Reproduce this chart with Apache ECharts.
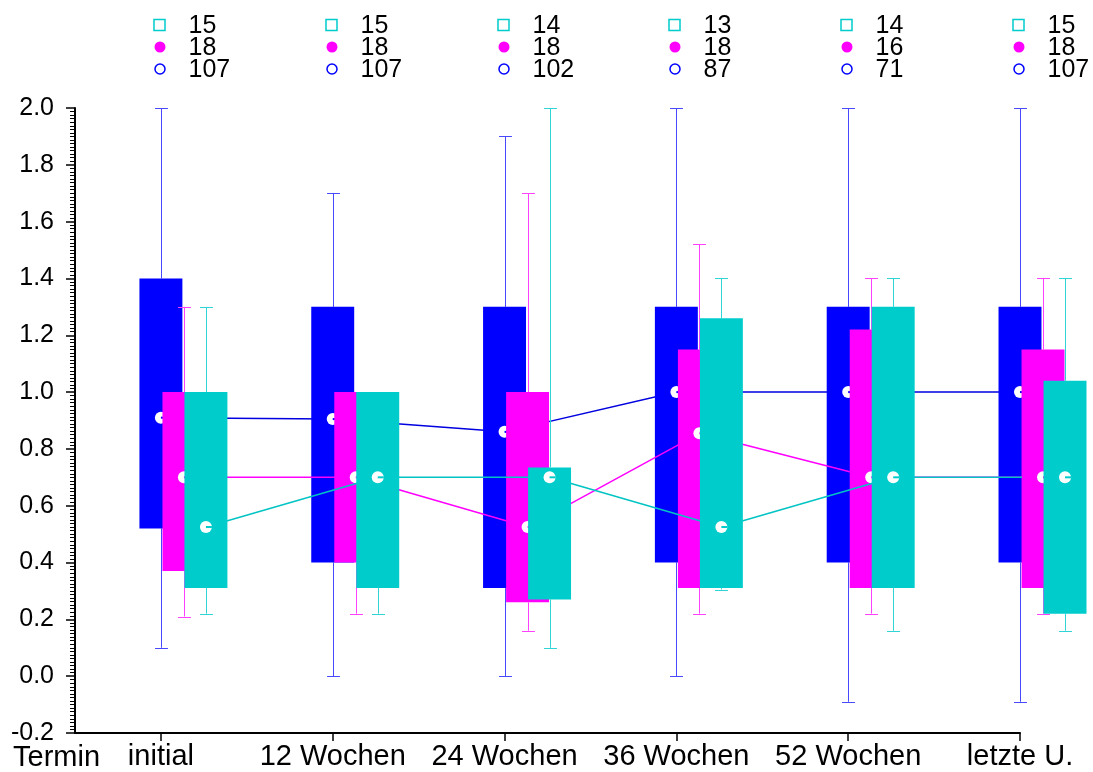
<!DOCTYPE html>
<html>
<head>
<meta charset="utf-8">
<script src="https://cdn.jsdelivr.net/npm/echarts@6/dist/echarts.min.js"></script>
<style>
html,body{margin:0;padding:0;background:#fff;}
#c{width:1093px;height:772px;}
</style>
</head>
<body>
<div id="c"></div>
<script>
// ---- data ----
const categories = ['initial', '12 Wochen', '24 Wochen', '36 Wochen', '52 Wochen', 'letzte U.'];
const axisTitle = 'Termin';
const yTicks = [-0.2, 0.0, 0.2, 0.4, 0.6, 0.8, 1.0, 1.2, 1.4, 1.6, 1.8, 2.0];
// N per group (legend numbers)
const nCyan = [15, 15, 14, 13, 14, 15];
const nMagenta = [18, 18, 18, 18, 16, 18];
const nBlue = [107, 107, 102, 87, 71, 107];
// [whisker low, Q1, median, Q3, whisker high]
const blueBox = [
  [0.10, 0.52, 0.91, 1.40, 2.00],
  [0.00, 0.40, 0.905, 1.30, 1.70],
  [0.00, 0.31, 0.86, 1.30, 1.90],
  [0.00, 0.40, 1.00, 1.30, 2.00],
  [-0.09, 0.40, 1.00, 1.30, 2.00],
  [-0.09, 0.40, 1.00, 1.30, 2.00]
];
const magentaBox = [
  [0.21, 0.37, 0.70, 1.00, 1.30],
  [0.22, 0.40, 0.70, 1.00, 1.00],
  [0.16, 0.26, 0.525, 1.00, 1.70],
  [0.22, 0.31, 0.855, 1.15, 1.52],
  [0.22, 0.31, 0.70, 1.22, 1.40],
  [0.22, 0.31, 0.70, 1.15, 1.40]
];
const cyanBox = [
  [0.22, 0.31, 0.525, 1.00, 1.30],
  [0.22, 0.31, 0.70, 1.00, 1.00],
  [0.10, 0.27, 0.70, 0.735, 2.00],
  [0.305, 0.31, 0.525, 1.26, 1.40],
  [0.16, 0.31, 0.70, 1.30, 1.40],
  [0.16, 0.22, 0.70, 1.04, 1.40]
];

// ---- style / layout ----
const FONT = 'Liberation Sans, Arial, sans-serif';
const BLUE = '#0000ff', MAGENTA = '#ff00ff', CYAN = '#00cccc';
const BOX_W = 0.25, CAP_W = 0.075;
const OFFS = [0, 0.134, 0.262];

function boxRender(color, whiskerColor) {
  return function (params, api) {
    const x = api.value(0);
    const pLo = api.coord([x, api.value(1)]);
    const pQ1 = api.coord([x, api.value(2)]);
    const pMed = api.coord([x, api.value(3)]);
    const pQ3 = api.coord([x, api.value(4)]);
    const pHi = api.coord([x, api.value(5)]);
    const hw = api.size([BOX_W, 0])[0] / 2;
    const cw = api.size([CAP_W, 0])[0] / 2;
    const cx = Math.round(pMed[0]) + 0.5;
    const ln = (x1, y1, x2, y2, w, c) => ({type: 'line', shape: {x1, y1, x2, y2}, style: {stroke: c || whiskerColor, lineWidth: w || 1}});
    return {
      type: 'group',
      children: [
        ln(cx, pQ1[1], cx, pLo[1]),
        ln(cx - cw, Math.round(pLo[1]) + 0.5, cx + cw, Math.round(pLo[1]) + 0.5),
        ln(cx, pQ3[1], cx, pHi[1]),
        ln(cx - cw, Math.round(pHi[1]) + 0.5, cx + cw, Math.round(pHi[1]) + 0.5),
        {type: 'rect', shape: {x: pMed[0] - hw, y: pQ3[1], width: 2 * hw, height: pQ1[1] - pQ3[1]}, style: {fill: color}},
        {type: 'circle', shape: {cx: pMed[0], cy: pMed[1], r: 6}, style: {fill: '#ffffff'}},
        ln(pMed[0], pMed[1], pMed[0] + 6, pMed[1], 2, color)
      ]
    };
  };
}

function lineSeries(data, color, off, z) {
  return {
    type: 'line', z, data: data.map((d, i) => [i + off, d[2]]),
    showSymbol: false, symbol: 'none', silent: true,
    lineStyle: {color, width: 1.5}, itemStyle: {color}
  };
}
function boxSeries(data, color, whiskerColor, off, z) {
  return {
    type: 'custom', z, data: data.map((d, i) => [i + off].concat(d)),
    encode: {x: 0, y: [1, 2, 3, 4, 5]}, renderItem: boxRender(color, whiskerColor), silent: true
  };
}

const legendSeries = {
  type: 'custom', z: 10, silent: true,
  data: categories.map((c, i) => [i, 0, nCyan[i], nMagenta[i], nBlue[i]]),
  encode: {x: 0, y: 1},
  renderItem: function (params, api) {
    const x = Math.round(api.coord([api.value(0), 0])[0]) - 1.5;
    const top = params.coordSys.y;
    const rows = [top - 83, top - 61, top - 39];
    const txt = (t, y) => ({type: 'text', style: {text: String(t), x: x + 29, y: y + 1, fill: '#000', fontSize: 25, fontFamily: FONT, align: 'left', verticalAlign: 'middle'}});
    return {
      type: 'group',
      children: [
        {type: 'rect', shape: {x: x - 5.5, y: rows[0] - 5.5, width: 11, height: 11}, style: {fill: 'none', stroke: CYAN, lineWidth: 1.5}},
        {type: 'circle', shape: {cx: x + 0.5, cy: rows[1], r: 5.5}, style: {fill: MAGENTA}},
        {type: 'circle', shape: {cx: x + 0.5, cy: rows[2], r: 5}, style: {fill: 'none', stroke: BLUE, lineWidth: 1.5}},
        txt(api.value(2), rows[0]),
        txt(api.value(3), rows[1]),
        txt(api.value(4), rows[2])
      ]
    };
  }
};

const chart = echarts.init(document.getElementById('c'), null, {renderer: 'canvas'});
chart.setOption({
  backgroundColor: '#ffffff',
  animation: false,
  grid: {left: 75, top: 108, width: 945, height: 625, containLabel: false, outerBoundsMode: 'none'},
  graphic: [
    {type: 'text', left: 13, top: 743, style: {text: axisTitle, fill: '#000', fontSize: 29, fontFamily: FONT}}
  ],
  xAxis: {
    type: 'value', min: -0.5, max: categories.length - 1,
    splitLine: {show: false},
    axisLine: {onZero: false, lineStyle: {color: '#000', width: 2}},
    axisTick: {show: true, length: 8, customValues: categories.map((c, i) => i), lineStyle: {color: '#000', width: 1.5}},
    axisLabel: {customValues: categories.map((c, i) => i), formatter: v => categories[Math.round(v)], color: '#000', fontSize: 29, fontFamily: FONT, margin: 9}
  },
  yAxis: {
    type: 'value', min: yTicks[0], max: yTicks[yTicks.length - 1], interval: 0.2,
    splitLine: {show: false},
    axisLine: {show: true, onZero: false, lineStyle: {color: '#000', width: 2}},
    axisTick: {show: true, length: 9, lineStyle: {color: '#000', width: 1.5}},
    minorTick: {show: true, splitNumber: 16, length: 5, lineStyle: {color: '#000', width: 1}},
    axisLabel: {formatter: v => v.toFixed(1), color: '#000', fontSize: 25, fontFamily: FONT, margin: 21}
  },
  series: [
    lineSeries(blueBox, '#0000e0', OFFS[0], 1),
    boxSeries(blueBox, BLUE, '#4848ff', OFFS[0], 2),
    lineSeries(magentaBox, MAGENTA, OFFS[1], 3),
    boxSeries(magentaBox, MAGENTA, '#ff40ff', OFFS[1], 4),
    lineSeries(cyanBox, '#00c4c4', OFFS[2], 5),
    boxSeries(cyanBox, CYAN, '#30d4d4', OFFS[2], 6),
    legendSeries
  ]
});
</script>
</body>
</html>
